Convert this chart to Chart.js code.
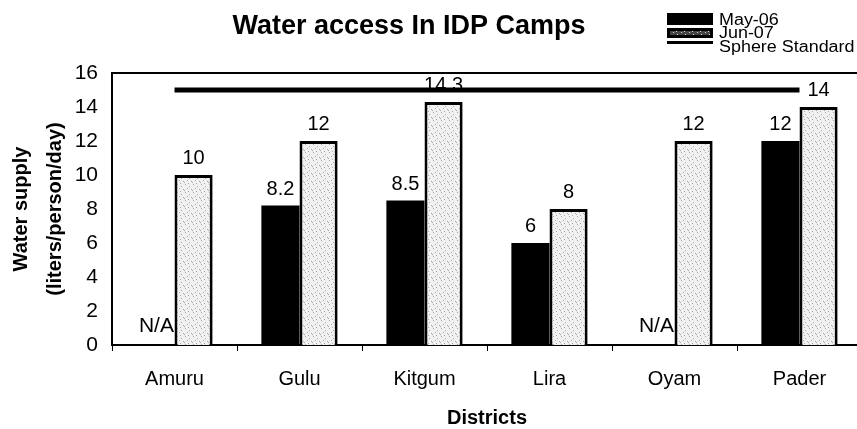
<!DOCTYPE html>
<html>
<head>
<meta charset="utf-8">
<script src="https://cdn.jsdelivr.net/npm/chart.js@4"></script>
<style>
  html, body { margin: 0; padding: 0; background: #fff; overflow: hidden; }
  #wrap { position: relative; width: 862px; height: 429px; }
</style>
</head>
<body>
<div id="wrap"><canvas id="chart"></canvas></div>
<script>
const districts = ['Amuru', 'Gulu', 'Kitgum', 'Lira', 'Oyam', 'Pader'];
const may06 = [null, 8.2, 8.5, 6, null, 12];
const jun07 = [10, 12, 14.3, 8, 12, 14];
const sphereStandard = [15, 15, 15, 15, 15, 15];
const yTicks = [0, 2, 4, 6, 8, 10, 12, 14, 16];

const FONT = 'Arial, "Liberation Sans", sans-serif';

// speckled light grey fill like the scanned Jun-07 bars
function makeSpeckle(bg, dot) {
  const c = document.createElement('canvas');
  c.width = 8; c.height = 8;
  const g = c.getContext('2d');
  g.fillStyle = bg;
  g.fillRect(0, 0, 8, 8);
  g.fillStyle = dot;
  [[1, 0], [5, 2], [3, 4], [7, 5], [0, 6], [4, 7]].forEach(p => g.fillRect(p[0], p[1], 1, 1));
  return g.createPattern(c, 'repeat');
}
const speckle = makeSpeckle('#f1f1f1', '#a8a8a8');
const speckleDark = makeSpeckle('#444', '#ddd');

// value labels above bars, N/A at the base of missing May-06 bars
const labelsPlugin = {
  id: 'barLabels',
  afterDatasetsDraw(chart) {
    const ctx = chart.ctx;
    const x = chart.scales.x;
    const y = chart.scales.y;
    const bw = chart.getDatasetMeta(2).data[0].width;
    ctx.save();
    ctx.fillStyle = '#000';
    ctx.textAlign = 'center';
    ctx.textBaseline = 'alphabetic';
    [[may06, -1], [jun07, 1]].forEach(([vals, side]) => {
      vals.forEach((v, i) => {
        const cx = x.getPixelForValue(i) + side * bw / 2;
        if (v === null) {
          ctx.font = '21px ' + FONT;
          ctx.fillText('N/A', cx + 1, y.getPixelForValue(0) - 13);
        } else {
          ctx.font = '20px ' + FONT;
          ctx.fillText(String(v), cx, y.getPixelForValue(v) - 11);
        }
      });
    });
    ctx.restore();
  }
};

const framePlugin = {
  id: 'frame',
  afterDraw(chart) {
    const ctx = chart.ctx;
    const a = chart.chartArea;
    ctx.save();
    ctx.fillStyle = '#000';
    ctx.fillRect(a.left - 1, a.top - 1, a.right - a.left + 1, 2);

    // title
    ctx.font = 'bold 27px ' + FONT;
    ctx.textAlign = 'center';
    ctx.textBaseline = 'alphabetic';
    ctx.fillText('Water access In IDP Camps', 409, 34);

    // legend
    ctx.fillRect(667, 13, 46, 12);
    ctx.fillRect(667, 28, 46, 10);
    ctx.fillStyle = speckleDark;
    ctx.fillRect(670, 31, 40, 4);
    ctx.fillStyle = '#000';
    ctx.fillRect(667, 41, 46, 3);
    ctx.textAlign = 'left';
    ctx.font = '16px ' + FONT;
    [['May-06', 25], ['Jun-07', 38], ['Sphere Standard', 52]].forEach(t => {
      ctx.save();
      ctx.translate(719, t[1]);
      ctx.scale(1.12, 1);
      ctx.fillText(t[0], 0, 0);
      ctx.restore();
    });
    ctx.restore();
  }
};

new Chart(document.getElementById('chart'), {
  data: {
    labels: districts,
    datasets: [
      {
        type: 'line',
        label: 'Sphere Standard',
        data: sphereStandard,
        borderColor: '#000',
        borderWidth: 5,
        pointRadius: 0,
        fill: false,
        order: 0
      },
      {
        type: 'bar',
        label: 'May-06',
        data: may06,
        backgroundColor: '#000',
        borderWidth: 0,
        order: 1
      },
      {
        type: 'bar',
        label: 'Jun-07',
        data: jun07,
        backgroundColor: speckle,
        borderColor: '#000',
        borderWidth: 3,
        order: 1
      }
    ]
  },
  options: {
    responsive: true,
    maintainAspectRatio: false,
    animation: false,
    devicePixelRatio: 1,
    layout: { padding: { top: 73, left: 0, right: 0, bottom: 0 } },
    datasets: {
      bar: { categoryPercentage: 0.61, barPercentage: 1.0 }
    },
    plugins: {
      legend: { display: false },
      title: { display: false },
      tooltip: { enabled: false }
    },
    scales: {
      x: {
        offset: true,
        grid: { display: true, drawOnChartArea: false, drawTicks: true, tickLength: 6, color: '#000', lineWidth: 1, offset: true },
        border: { display: true, color: '#000', width: 2 },
        ticks: { color: '#000', font: { family: FONT, size: 20 }, padding: 16 },
        title: {
          display: true,
          text: 'Districts',
          color: '#000',
          font: { family: FONT, size: 20, weight: 'bold', lineHeight: 1 },
          padding: { top: 0, bottom: 1 }
        },
        afterFit(s) { s.height = 84; }
      },
      y: {
        min: 0,
        max: 16,
        afterBuildTicks(s) { s.ticks = yTicks.map(v => ({ value: v })); },
        grid: { display: false, drawTicks: false },
        border: { display: true, color: '#000', width: 2 },
        ticks: { color: '#000', font: { family: FONT, size: 21 }, padding: 14 },
        title: {
          display: true,
          text: ['Water supply', '(liters/person/day)'],
          color: '#000',
          font: { family: FONT, size: 20, weight: 'bold', lineHeight: 1.7 },
          padding: { top: 4, bottom: 0 }
        },
        afterFit(s) { s.width = 112; }
      }
    }
  },
  plugins: [labelsPlugin, framePlugin]
});
</script>
</body>
</html>
